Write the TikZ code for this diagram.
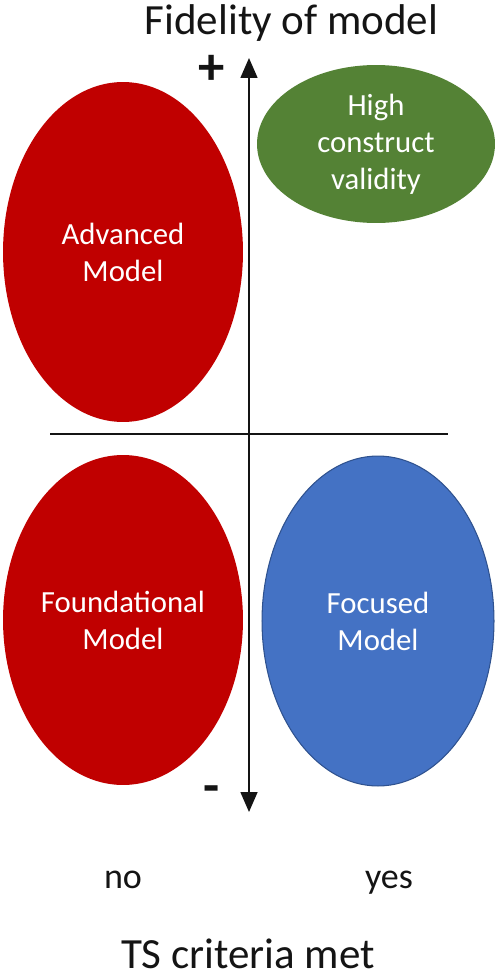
\documentclass[tikz,border=0pt]{standalone}
\usepackage{fontspec}
\setmainfont{Carlito}
\usepackage{tikz}
\usetikzlibrary{positioning, arrows.meta, shapes.geometric}
\definecolor{redm}{RGB}{192,0,0}
\definecolor{greenm}{RGB}{84,130,53}
\definecolor{bluem}{RGB}{68,114,196}
\definecolor{bluerim}{RGB}{47,82,143}
\definecolor{ink}{RGB}{20,20,20}
\tikzset{
  blob/.style={ellipse,inner sep=0pt,text=white,align=center,
    font=\fontsize{17.5}{21}\selectfont},
  axisline/.style={line width=0.9pt,draw=ink},
  arr/.style={{Triangle[length=4mm,width=3.4mm]}-{Triangle[length=4mm,width=3.4mm]},axisline},
  lbl/.style={inner sep=0pt,anchor=base,text=ink,font=\fontsize{24.5}{29}\selectfont},
  sign/.style={inner sep=0pt,text=ink,font=\fontsize{30}{36}\selectfont\bfseries},
  ans/.style={inner sep=0pt,anchor=base,text=ink,font=\fontsize{20.5}{24}\selectfont},
}

\begin{document}
\begin{tikzpicture}[x=0.02cm,y=-0.02cm]
  \useasboundingbox (0,0) rectangle (502,980);
  % quadrant ellipses
  \node[blob,fill=redm,minimum width=4.8cm,minimum height=6.8cm] (adv) at (123,252) {Advanced\\Model};
  \node[blob,fill=greenm,minimum width=4.76cm,minimum height=3.16cm] (high) at (376,144) {High\\construct\\validity};
  \node[blob,fill=redm,minimum width=4.8cm,minimum height=6.6cm] (found) at (123,620) {Foundational\\Model};
  \node[blob,fill=bluem,draw=bluerim,line width=0.6pt,minimum width=4.64cm,minimum height=6.6cm] (foc) at (378,621) {Focused\\Model};
  % axes
  \coordinate (up) at (249,58);
  \coordinate (down) at (249,812);
  \coordinate (left) at (50,434);
  \coordinate (right) at (448,434);
  \draw[arr] (down) -- (up);
  \draw[axisline] (left) -- (right);
  % labels
  \node[lbl] (title) at (291.5,35) {Fidelity of model};
  \node[sign] (plus) at (212,70) {+};
  \node[sign] (minus) at (212,795) {-};
  \node[ans] (no) at (123,888) {no};
  \node[ans] (yes) at (389,888) {yes};
  \node[lbl] (crit) at (248,968) {TS criteria met};
\end{tikzpicture}
\end{document}
